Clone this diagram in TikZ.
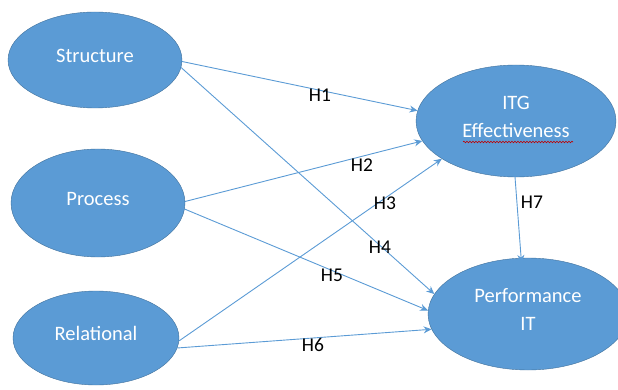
\documentclass[tikz,border=0pt]{standalone}
\usepackage{fontspec}
\setmainfont{Carlito}
\usetikzlibrary{arrows.meta,positioning,shapes.geometric,decorations.pathmorphing}
\definecolor{offblue}{HTML}{5B9BD5}
\definecolor{offedge}{HTML}{41719C}

\begin{document}
\begin{tikzpicture}[
    x=1pt, y=-1pt,
    myellipse/.style={
    ellipse,
    draw=offedge,
    fill=offblue,
    text=white,
    inner sep=0pt,
    align=center,
    text depth=9pt,
    font=\fontsize{20.5}{28}\selectfont},
    myarrow/.style={-{Stealth[length=8pt,width=7pt]},draw=offblue,line width=0.9pt},
    mylabel/.style={font=\fontsize{19.5}{22}\selectfont,text=black,inner sep=1pt}
    ]
    \useasboundingbox (0,0) rectangle (618,390);

    % constructs
    \node[myellipse, minimum width=174pt, minimum height=96pt] (struct) at (95,60) {Structure};
    \node[myellipse, minimum width=174pt, minimum height=108pt] (process) at (98,203) {Process};
    \node[myellipse, minimum width=166pt, minimum height=94pt] (relational) at (96,338) {Relational};
    \node[myellipse, minimum width=200pt, minimum height=112pt] (itg) at (516,121) {ITG\\Effectiveness};
    \node[myellipse, minimum width=200pt, minimum height=112pt] (perf) at (528,314) {Performance\\IT};

    % spell-check squiggle
    \coordinate (sqa) at (463,142);
    \coordinate (sqb) at (573,142);
    \draw[red!75!black, line width=0.6pt, decorate, decoration={snake, amplitude=0.8pt, segment length=3pt}] (sqa) -- (sqb);

    % paths
    \draw[myarrow] (struct.-1) -- (itg.174);
    \draw[myarrow] (struct.-5) -- (perf.168);
    \draw[myarrow] (process.1) -- (itg.192);
    \draw[myarrow] (process.-4) -- (perf.178);
    \draw[myarrow] (relational.-2) -- (itg.207);
    \draw[myarrow] (relational.-7) -- (perf.189);
    \draw[myarrow, shorten <=-6pt, shorten >=-5pt] (itg.269) -- (perf.97);

    % hypotheses
    \node[mylabel] (h1) at (320,95) {H1};
    \node[mylabel] (h2) at (362,165) {H2};
    \node[mylabel] (h3) at (385,203) {H3};
    \node[mylabel] (h4) at (380,247) {H4};
    \node[mylabel] (h5) at (332,275) {H5};
    \node[mylabel] (h6) at (313,345) {H6};
    \node[mylabel] (h7) at (532,202) {H7};
\end{tikzpicture}
\end{document}
